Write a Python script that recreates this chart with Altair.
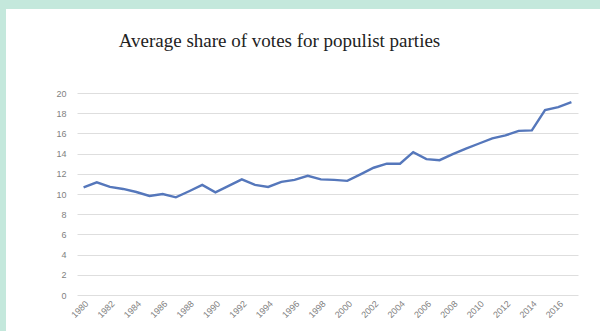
import altair as alt
import pandas as pd

# Average share of votes for populist parties, 1980-2017
years = list(range(1980, 2018))
share = [10.66, 11.15, 10.7, 10.5, 10.2, 9.8, 10.0, 9.67, 10.27, 10.9,
         10.17, 10.8, 11.45, 10.9, 10.7, 11.2, 11.4, 11.8, 11.45, 11.4,
         11.3, 11.95, 12.6, 13.0, 13.0, 14.15, 13.45, 13.35, 13.95, 14.5,
         15.0, 15.5, 15.8, 16.25, 16.3, 18.3, 18.6, 19.1]
label_years = list(range(1980, 2017, 2))
y_ticks = list(range(0, 21, 2))

df = pd.DataFrame({"year": years, "share": share})

W, H = 501, 202
PAD_L, PAD_T = 77, 93
MINT = "#c4e8dc"

line = alt.Chart(df).mark_line(color="#5577bb", strokeWidth=2.4).encode(
    x=alt.X("year:O",
            scale=alt.Scale(type="point", padding=0.5),
            axis=alt.Axis(values=label_years, labelAngle=-45, title=None,
                          ticks=False, domain=False, grid=False,
                          labelFontSize=9, labelColor="#7f7f7f",
                          labelFont="Liberation Sans", labelPadding=4)),
    y=alt.Y("share:Q",
            scale=alt.Scale(domain=[0, 20], nice=False, zero=True),
            axis=alt.Axis(values=y_ticks, title=None, ticks=False,
                          domain=False, grid=True, gridColor="#dedede",
                          gridWidth=1, labelFontSize=9,
                          labelColor="#7f7f7f", labelFont="Liberation Sans",
                          labelPadding=11)),
)

# mint frame along the top and left edges of the page
frame = pd.DataFrame({"k": [0]})
top_band = alt.Chart(frame).mark_rect(color=MINT).encode(
    x=alt.value(-PAD_L), x2=alt.value(600 - PAD_L),
    y=alt.value(-PAD_T), y2=alt.value(-PAD_T + 9))
left_band = alt.Chart(frame).mark_rect(color=MINT).encode(
    x=alt.value(-PAD_L), x2=alt.value(-PAD_L + 6),
    y=alt.value(-PAD_T), y2=alt.value(331 - PAD_T))

chart = alt.layer(top_band, left_band, line).properties(
    width=W, height=H,
    padding={"left": PAD_L, "top": PAD_T, "right": 600 - PAD_L - W,
             "bottom": 331 - PAD_T - H},
    autosize=alt.AutoSizeParams(type="none"),
    background="white",
    title=alt.TitleParams("Average share of votes for populist parties",
                          font="Liberation Serif", fontSize=19,
                          fontWeight="normal", color="#222222",
                          anchor="middle", dx=-48, offset=-51),
).configure_view(stroke=None)

chart.save("out.html", embed_options={"renderer": "svg", "actions": False})
